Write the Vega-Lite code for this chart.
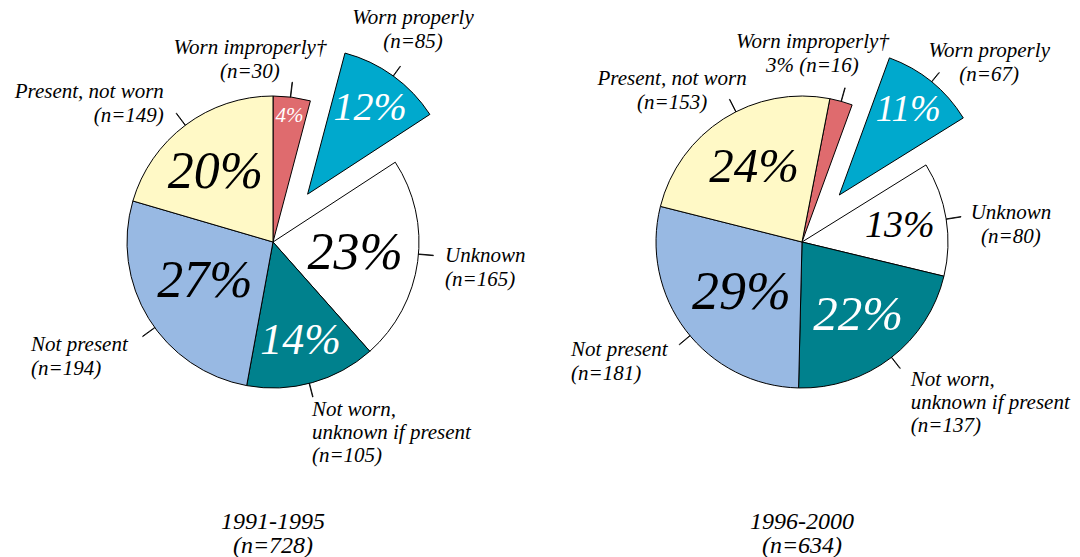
{
  "$schema": "https://vega.github.io/schema/vega-lite/v6.json",
  "padding": {"left": 8.5, "top": 0, "right": 0, "bottom": 0},
  "bounds": "flush",
  "spacing": 0,
  "background": "#ffffff",
  "resolve": {"scale": {"theta": "independent"}},
  "config": {
    "view": {"stroke": null},
    "text": {"font": "Liberation Serif", "fontStyle": "italic", "lineBreak": "\n", "lineHeight": 24, "fontSize": 21},
    "title": {"font": "Liberation Serif", "fontStyle": "italic", "fontWeight": "normal", "fontSize": 24, "lineHeight": 24, "orient": "bottom", "offset": 26, "baseline": "top", "anchor": "middle", "color": "#000"}
  },
  "hconcat": [
    {
      "width": 529,
      "height": 484,
      "title": {"text": ["1991-1995", "(n=728)"]},
      "data": {"values": [
        {"cat": "Worn improperly", "n": 30, "ord": 1, "pct": "4%", "label": "Worn improperly†\n(n=30)"},
        {"cat": "Worn properly", "n": 85, "ord": 2, "pct": "12%", "label": "Worn properly\n(n=85)"},
        {"cat": "Unknown", "n": 165, "ord": 3, "pct": "23%", "label": "Unknown\n(n=165)"},
        {"cat": "Not worn, unknown if present", "n": 105, "ord": 4, "pct": "14%", "label": "Not worn,\nunknown if present\n(n=105)"},
        {"cat": "Not present", "n": 194, "ord": 5, "pct": "27%", "label": "Not present\n(n=194)"},
        {"cat": "Present, not worn", "n": 149, "ord": 6, "pct": "20%", "label": "Present, not worn\n(n=149)"}
      ]},
      "transform": [{"stack": "n", "groupby": [], "sort": [{"field": "ord", "order": "ascending"}], "as": ["s0", "s1"]}],
      "encoding": {
        "theta": {"field": "n", "type": "quantitative", "stack": true, "scale": {"range": [0, 6.283185]}},
        "order": {"field": "ord", "type": "quantitative"}
      },
      "layer": [
        {"mark": {"type": "arc", "radius": 146, "stroke": "#000", "strokeWidth": 1},
         "encoding": {"color": {"field": "cat", "type": "nominal", "legend": null, "scale": {"domain": ["Worn improperly", "Worn properly", "Unknown", "Not worn, unknown if present", "Not present", "Present, not worn"], "range": ["#DF6B6E", "#00A9CD", "#FFFFFF", "#00818D", "#98B9E3", "#FFF9C6"]}},
           "opacity": {"condition": {"test": "datum.cat === 'Worn properly'", "value": 0}, "value": 1}}},
        {"mark": {"type": "arc", "radius": 146, "stroke": "#000", "strokeWidth": 1, "xOffset": 34.6, "yOffset": -47.8},
         "encoding": {"color": {"field": "cat", "type": "nominal", "legend": null},
           "opacity": {"condition": {"test": "datum.cat === 'Worn properly'", "value": 1}, "value": 0}}},
        {"transform": [{"filter": "datum.cat === 'Worn improperly'"}],
         "mark": {"type": "arc", "radius": 161, "radius2": 146, "thetaOffset": 0.1187, "theta2Offset": 0.1217, "fillOpacity": 0, "stroke": "#000", "strokeWidth": 0.9},
         "encoding": {"theta": {"field": "s0", "type": "quantitative", "stack": null}, "theta2": {"field": "s0"}}},
        {"transform": [{"filter": "datum.cat === 'Worn properly'"}],
         "mark": {"type": "arc", "radius": 158, "radius2": 146, "thetaOffset": 0.3668, "theta2Offset": 0.3698, "xOffset": 34.6, "yOffset": -47.8, "fillOpacity": 0, "stroke": "#000", "strokeWidth": 0.9},
         "encoding": {"theta": {"field": "s0", "type": "quantitative", "stack": null}, "theta2": {"field": "s0"}}},
        {"transform": [{"filter": "datum.cat === 'Unknown'"}],
         "mark": {"type": "arc", "radius": 161, "radius2": 146, "thetaOffset": 0.6603, "theta2Offset": 0.6633, "fillOpacity": 0, "stroke": "#000", "strokeWidth": 0.9},
         "encoding": {"theta": {"field": "s0", "type": "quantitative", "stack": null}, "theta2": {"field": "s0"}}},
        {"transform": [{"filter": "datum.cat === 'Not worn, unknown if present'"}],
         "mark": {"type": "arc", "radius": 160, "radius2": 146, "thetaOffset": 0.4719, "theta2Offset": 0.4749, "fillOpacity": 0, "stroke": "#000", "strokeWidth": 0.9},
         "encoding": {"theta": {"field": "s0", "type": "quantitative", "stack": null}, "theta2": {"field": "s0"}}},
        {"transform": [{"filter": "datum.cat === 'Not present'"}],
         "mark": {"type": "arc", "radius": 161, "radius2": 146, "thetaOffset": 0.7612, "theta2Offset": 0.7642, "fillOpacity": 0, "stroke": "#000", "strokeWidth": 0.9},
         "encoding": {"theta": {"field": "s0", "type": "quantitative", "stack": null}, "theta2": {"field": "s0"}}},
        {"transform": [{"filter": "datum.cat === 'Present, not worn'"}],
         "mark": {"type": "arc", "radius": 161, "radius2": 146, "thetaOffset": 0.6402, "theta2Offset": 0.6432, "fillOpacity": 0, "stroke": "#000", "strokeWidth": 0.9},
         "encoding": {"theta": {"field": "s0", "type": "quantitative", "stack": null}, "theta2": {"field": "s0"}}},
        {"mark": {"type": "text", "radius": 127, "font": "Liberation Serif", "fontStyle": "italic", "fontSize": 21, "fill": "#ffffff"},
         "encoding": {"text": {"condition": {"test": "datum.cat === 'Worn improperly'", "field": "pct"}, "value": ""}}},
        {"mark": {"type": "text", "radius": 106, "dx": 35, "dy": -48, "font": "Liberation Serif", "fontStyle": "italic", "fontSize": 40, "fill": "#ffffff"},
         "encoding": {"text": {"condition": {"test": "datum.cat === 'Worn properly'", "field": "pct"}, "value": ""}}},
        {"mark": {"type": "text", "radius": 83, "font": "Liberation Serif", "fontStyle": "italic", "fontSize": 52, "fill": "#000"},
         "encoding": {"text": {"condition": {"test": "datum.cat === 'Unknown'", "field": "pct"}, "value": ""}}},
        {"mark": {"type": "text", "radius": 103, "font": "Liberation Serif", "fontStyle": "italic", "fontSize": 44, "fill": "#ffffff"},
         "encoding": {"text": {"condition": {"test": "datum.cat === 'Not worn, unknown if present'", "field": "pct"}, "value": ""}}},
        {"mark": {"type": "text", "radius": 80, "dy": -3, "font": "Liberation Serif", "fontStyle": "italic", "fontSize": 52, "fill": "#000"},
         "encoding": {"text": {"condition": {"test": "datum.cat === 'Not present'", "field": "pct"}, "value": ""}}},
        {"mark": {"type": "text", "radius": 91, "dx": -3, "dy": 3, "font": "Liberation Serif", "fontStyle": "italic", "fontSize": 52, "fill": "#000"},
         "encoding": {"text": {"condition": {"test": "datum.cat === 'Present, not worn'", "field": "pct"}, "value": ""}}},
        {"mark": {"type": "text", "radius": 162, "dx": -44, "dy": -33, "align": "center", "baseline": "middle", "font": "Liberation Serif", "fontStyle": "italic", "fontSize": 21, "fill": "#000"},
         "encoding": {"text": {"condition": {"test": "datum.cat === 'Worn improperly'", "field": "label"}, "value": ""}}},
        {"mark": {"type": "text", "radius": 0, "dx": 140, "dy": -224, "align": "center", "baseline": "middle", "font": "Liberation Serif", "fontStyle": "italic", "fontSize": 21, "fill": "#000"},
         "encoding": {"text": {"condition": {"test": "datum.cat === 'Worn properly'", "field": "label"}, "value": ""}}},
        {"mark": {"type": "text", "radius": 162, "dx": 11.5, "dy": -8, "align": "left", "baseline": "middle", "font": "Liberation Serif", "fontStyle": "italic", "fontSize": 21, "fill": "#000"},
         "encoding": {"text": {"condition": {"test": "datum.cat === 'Unknown'", "field": "label"}, "value": ""}}},
        {"mark": {"type": "text", "radius": 162, "dx": -4.6, "dy": 12, "align": "left", "baseline": "middle", "lineHeight": 23, "font": "Liberation Serif", "fontStyle": "italic", "fontSize": 21, "fill": "#000"},
         "encoding": {"text": {"condition": {"test": "datum.cat === 'Not worn, unknown if present'", "field": "label"}, "value": ""}}},
        {"mark": {"type": "text", "radius": 162, "dx": -104, "dy": 18, "align": "left", "baseline": "middle", "font": "Liberation Serif", "fontStyle": "italic", "fontSize": 21, "fill": "#000"},
         "encoding": {"text": {"condition": {"test": "datum.cat === 'Not present'", "field": "label"}, "value": ""}}},
        {"mark": {"type": "text", "radius": 162, "dx": -12, "dy": -20, "align": "right", "baseline": "middle", "font": "Liberation Serif", "fontStyle": "italic", "fontSize": 21, "fill": "#000"},
         "encoding": {"text": {"condition": {"test": "datum.cat === 'Present, not worn'", "field": "label"}, "value": ""}}}
      ]
    },
    {
      "width": 529,
      "height": 484,
      "title": {"text": ["1996-2000", "(n=634)"]},
      "data": {"values": [
        {"cat": "Worn improperly", "n": 16, "ord": 1, "pct": "3%", "label": "Worn improperly†\n3% (n=16)"},
        {"cat": "Worn properly", "n": 67, "ord": 2, "pct": "11%", "label": "Worn properly\n(n=67)"},
        {"cat": "Unknown", "n": 80, "ord": 3, "pct": "13%", "label": "Unknown\n(n=80)"},
        {"cat": "Not worn, unknown if present", "n": 137, "ord": 4, "pct": "22%", "label": "Not worn,\nunknown if present\n(n=137)"},
        {"cat": "Not present", "n": 181, "ord": 5, "pct": "29%", "label": "Not present\n(n=181)"},
        {"cat": "Present, not worn", "n": 153, "ord": 6, "pct": "24%", "label": "Present, not worn\n(n=153)"}
      ]},
      "transform": [{"stack": "n", "groupby": [], "sort": [{"field": "ord", "order": "ascending"}], "as": ["s0", "s1"]}],
      "encoding": {
        "theta": {"field": "n", "type": "quantitative", "stack": true, "scale": {"range": [0.19199, 6.475175]}},
        "order": {"field": "ord", "type": "quantitative"}
      },
      "layer": [
        {"mark": {"type": "arc", "radius": 146, "stroke": "#000", "strokeWidth": 1},
         "encoding": {"color": {"field": "cat", "type": "nominal", "legend": null},
           "opacity": {"condition": {"test": "datum.cat === 'Worn properly'", "value": 0}, "value": 1}}},
        {"mark": {"type": "arc", "radius": 146, "stroke": "#000", "strokeWidth": 1, "xOffset": 37.3, "yOffset": -47},
         "encoding": {"color": {"field": "cat", "type": "nominal", "legend": null},
           "opacity": {"condition": {"test": "datum.cat === 'Worn properly'", "value": 1}, "value": 0}}},
        {"transform": [{"filter": "datum.cat === 'Worn improperly'"}],
         "mark": {"type": "arc", "radius": 160, "radius2": 146, "thetaOffset": 0.0785, "theta2Offset": 0.0815, "fillOpacity": 0, "stroke": "#000", "strokeWidth": 0.9},
         "encoding": {"theta": {"field": "s0", "type": "quantitative", "stack": null}, "theta2": {"field": "s0"}}},
        {"transform": [{"filter": "datum.cat === 'Worn properly'"}],
         "mark": {"type": "arc", "radius": 158, "radius2": 146, "thetaOffset": 0.3321, "theta2Offset": 0.3351, "xOffset": 37.3, "yOffset": -47, "fillOpacity": 0, "stroke": "#000", "strokeWidth": 0.9},
         "encoding": {"theta": {"field": "s0", "type": "quantitative", "stack": null}, "theta2": {"field": "s0"}}},
        {"transform": [{"filter": "datum.cat === 'Unknown'"}],
         "mark": {"type": "arc", "radius": 161, "radius2": 146, "thetaOffset": 0.3974, "theta2Offset": 0.4004, "fillOpacity": 0, "stroke": "#000", "strokeWidth": 0.9},
         "encoding": {"theta": {"field": "s0", "type": "quantitative", "stack": null}, "theta2": {"field": "s0"}}},
        {"transform": [{"filter": "datum.cat === 'Not worn, unknown if present'"}],
         "mark": {"type": "arc", "radius": 160, "radius2": 146, "thetaOffset": 0.6727, "theta2Offset": 0.6757, "fillOpacity": 0, "stroke": "#000", "strokeWidth": 0.9},
         "encoding": {"theta": {"field": "s0", "type": "quantitative", "stack": null}, "theta2": {"field": "s0"}}},
        {"transform": [{"filter": "datum.cat === 'Not present'"}],
         "mark": {"type": "arc", "radius": 160, "radius2": 146, "thetaOffset": 0.8492, "theta2Offset": 0.8522, "fillOpacity": 0, "stroke": "#000", "strokeWidth": 0.9},
         "encoding": {"theta": {"field": "s0", "type": "quantitative", "stack": null}, "theta2": {"field": "s0"}}},
        {"transform": [{"filter": "datum.cat === 'Present, not worn'"}],
         "mark": {"type": "arc", "radius": 160, "radius2": 146, "thetaOffset": 0.8531, "theta2Offset": 0.8561, "fillOpacity": 0, "stroke": "#000", "strokeWidth": 0.9},
         "encoding": {"theta": {"field": "s0", "type": "quantitative", "stack": null}, "theta2": {"field": "s0"}}},
        {"mark": {"type": "text", "radius": 110, "dx": 37, "dy": -47, "font": "Liberation Serif", "fontStyle": "italic", "fontSize": 37, "fill": "#ffffff"},
         "encoding": {"text": {"condition": {"test": "datum.cat === 'Worn properly'", "field": "pct"}, "value": ""}}},
        {"mark": {"type": "text", "radius": 99, "font": "Liberation Serif", "fontStyle": "italic", "fontSize": 38, "fill": "#000"},
         "encoding": {"text": {"condition": {"test": "datum.cat === 'Unknown'", "field": "pct"}, "value": ""}}},
        {"mark": {"type": "text", "radius": 92, "font": "Liberation Serif", "fontStyle": "italic", "fontSize": 49, "fill": "#ffffff"},
         "encoding": {"text": {"condition": {"test": "datum.cat === 'Not worn, unknown if present'", "field": "pct"}, "value": ""}}},
        {"mark": {"type": "text", "radius": 81, "dx": 4, "dy": 2, "font": "Liberation Serif", "fontStyle": "italic", "fontSize": 54, "fill": "#000"},
         "encoding": {"text": {"condition": {"test": "datum.cat === 'Not present'", "field": "pct"}, "value": ""}}},
        {"mark": {"type": "text", "radius": 89, "font": "Liberation Serif", "fontStyle": "italic", "fontSize": 49, "fill": "#000"},
         "encoding": {"text": {"condition": {"test": "datum.cat === 'Present, not worn'", "field": "pct"}, "value": ""}}},
        {"mark": {"type": "text", "radius": 162, "dx": -33, "dy": -44, "align": "center", "baseline": "middle", "font": "Liberation Serif", "fontStyle": "italic", "fontSize": 21, "fill": "#000"},
         "encoding": {"text": {"condition": {"test": "datum.cat === 'Worn improperly'", "field": "label"}, "value": ""}}},
        {"mark": {"type": "text", "radius": 162, "dx": 85, "dy": -65, "align": "center", "baseline": "middle", "font": "Liberation Serif", "fontStyle": "italic", "fontSize": 21, "fill": "#000"},
         "encoding": {"text": {"condition": {"test": "datum.cat === 'Worn properly'", "field": "label"}, "value": ""}}},
        {"mark": {"type": "text", "radius": 162, "dx": 49, "dy": -3, "align": "center", "baseline": "middle", "font": "Liberation Serif", "fontStyle": "italic", "fontSize": 21, "fill": "#000"},
         "encoding": {"text": {"condition": {"test": "datum.cat === 'Unknown'", "field": "label"}, "value": ""}}},
        {"mark": {"type": "text", "radius": 162, "dx": 10, "dy": 10, "align": "left", "baseline": "middle", "lineHeight": 23, "font": "Liberation Serif", "fontStyle": "italic", "fontSize": 21, "fill": "#000"},
         "encoding": {"text": {"condition": {"test": "datum.cat === 'Not worn, unknown if present'", "field": "label"}, "value": ""}}},
        {"mark": {"type": "text", "radius": 162, "dx": -102, "dy": 10, "align": "left", "baseline": "middle", "font": "Liberation Serif", "fontStyle": "italic", "fontSize": 21, "fill": "#000"},
         "encoding": {"text": {"condition": {"test": "datum.cat === 'Not present'", "field": "label"}, "value": ""}}},
        {"mark": {"type": "text", "radius": 162, "dx": -43, "dy": -26, "align": "center", "baseline": "middle", "font": "Liberation Serif", "fontStyle": "italic", "fontSize": 21, "fill": "#000"},
         "encoding": {"text": {"condition": {"test": "datum.cat === 'Present, not worn'", "field": "label"}, "value": ""}}}
      ]
    }
  ]
}
